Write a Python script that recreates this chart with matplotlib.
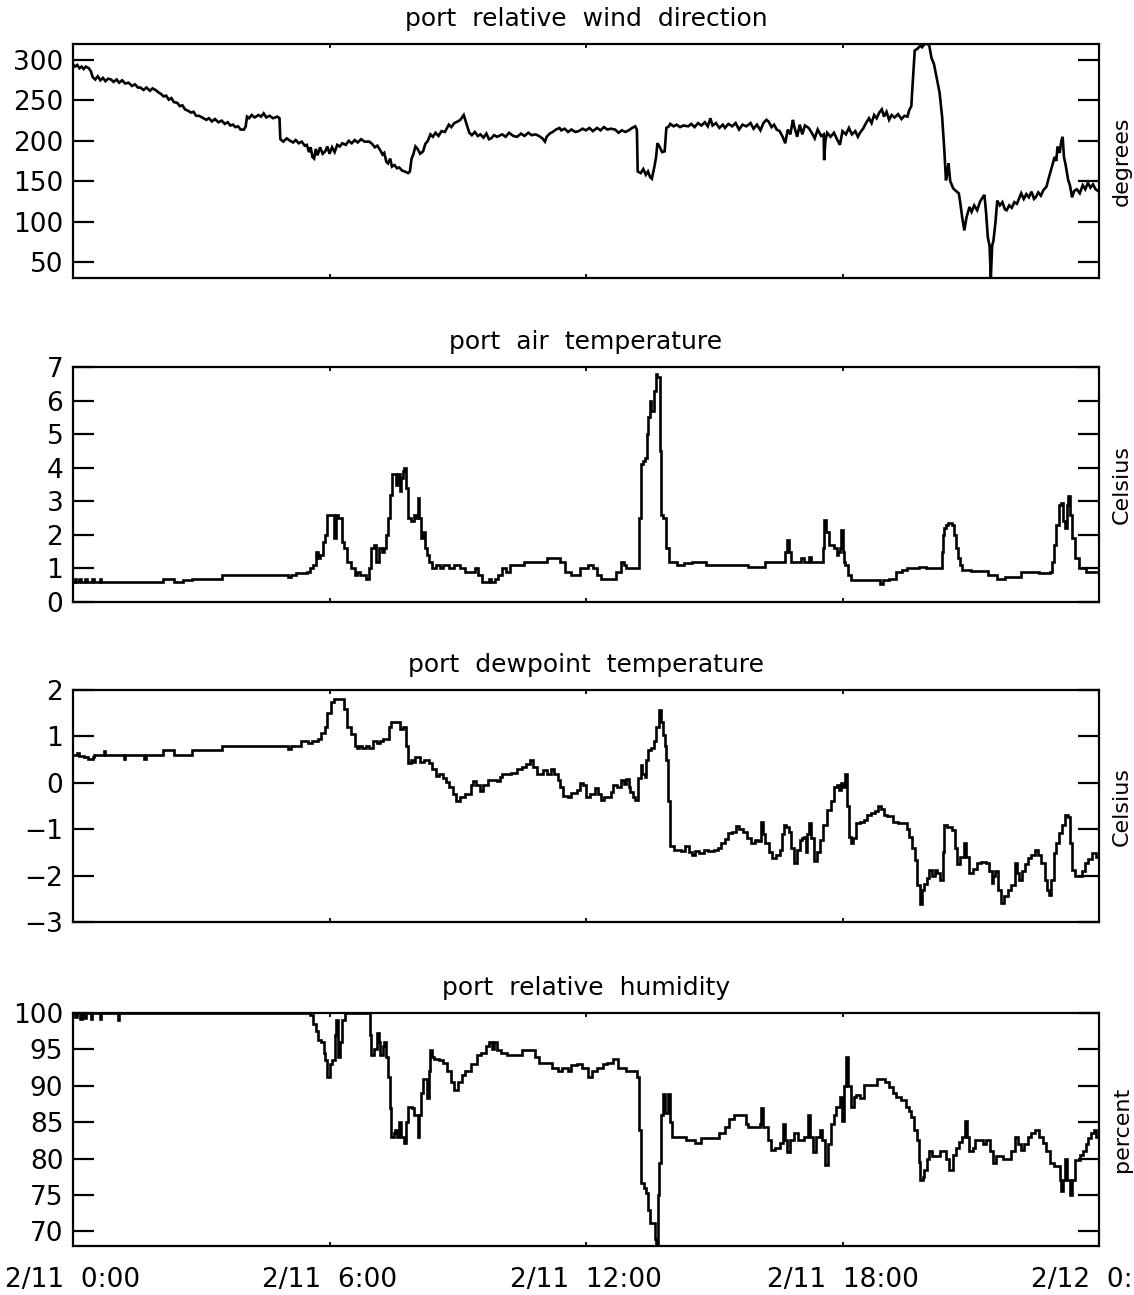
import numpy as np
import matplotlib
matplotlib.use("Agg")
import matplotlib.pyplot as plt

# ---------------- data (hours since 2/11 0:00, value) ----------------
wind_t = [0.00,0.05,0.10,0.15,0.20,0.25,0.30,0.37,0.42,0.46,0.52,0.58,0.64,0.70,0.76,0.82,0.89,0.95,1.02,1.08,
          1.15,1.22,1.30,1.38,1.45,1.52,1.58,1.65,1.72,1.80,1.86,1.93,2.00,2.06,2.12,2.18,2.24,2.30,2.36,2.44,
          2.50,2.56,2.62,2.70,2.76,2.82,2.88,2.95,3.05,3.12,3.18,3.25,3.32,3.40,3.48,3.55,3.62,3.68,3.74,3.80,
          3.86,3.92,4.00,4.04,4.07,4.12,4.18,4.25,4.34,4.40,4.46,4.52,4.60,4.68,4.78,4.83,4.85,4.92,5.00,5.08,
          5.15,5.21,5.28,5.35,5.42,5.47,5.52,5.56,5.60,5.64,5.68,5.72,5.78,5.84,5.90,5.95,6.00,6.06,6.12,6.18,
          6.24,6.30,6.38,6.45,6.52,6.59,6.66,6.74,6.82,6.93,7.00,7.06,7.12,7.19,7.24,7.28,7.33,7.37,7.42,7.46,
          7.52,7.58,7.63,7.70,7.76,7.84,7.88,7.92,7.96,8.01,8.06,8.12,8.19,8.24,8.30,8.36,8.42,8.48,8.55,8.62,
          8.70,8.79,8.85,8.92,9.00,9.06,9.14,9.20,9.27,9.33,9.40,9.47,9.53,9.60,9.67,9.73,9.78,9.85,9.92,10.04,
          10.12,10.20,10.30,10.39,10.48,10.56,10.65,10.73,10.82,10.90,10.98,11.04,11.08,11.15,11.22,11.30,11.38,11.42,11.50,11.58,
          11.66,11.75,11.83,11.92,12.00,12.08,12.16,12.26,12.34,12.42,12.50,12.58,12.68,12.76,12.84,12.92,13.00,13.08,13.15,13.19,
          13.21,13.28,13.34,13.40,13.45,13.50,13.54,13.60,13.64,13.67,13.72,13.78,13.84,13.88,13.94,13.97,14.05,14.12,14.20,14.28,
          14.39,14.46,14.54,14.62,14.70,14.78,14.85,14.91,14.96,15.04,15.12,15.20,15.25,15.33,15.42,15.50,15.58,15.66,15.75,15.85,
          15.92,16.00,16.08,16.15,16.22,16.27,16.34,16.40,16.46,16.53,16.60,16.66,16.72,16.78,16.84,16.87,16.94,17.00,17.06,17.12,
          17.21,17.28,17.35,17.42,17.50,17.56,17.57,17.60,17.64,17.72,17.80,17.88,17.94,18.00,18.08,18.15,18.22,18.30,18.36,18.41,
          18.48,18.55,18.62,18.68,18.74,18.80,18.86,18.92,18.97,19.03,19.09,19.15,19.22,19.30,19.38,19.45,19.52,19.56,19.61,19.64,
          19.69,19.75,19.82,19.86,19.92,19.99,20.03,20.08,20.14,20.21,20.27,20.33,20.38,20.42,20.45,20.48,20.52,20.59,20.65,20.72,
          20.75,20.80,20.85,20.90,20.97,21.02,21.08,21.15,21.22,21.28,21.32,21.36,21.40,21.44,21.47,21.50,21.53,21.58,21.62,21.68,
          21.74,21.80,21.84,21.90,21.96,22.02,22.08,22.14,22.18,22.24,22.30,22.36,22.42,22.48,22.52,22.58,22.64,22.70,22.77,22.83,
          22.90,22.96,23.00,23.03,23.08,23.12,23.15,23.18,23.22,23.28,23.32,23.37,23.42,23.48,23.55,23.62,23.68,23.74,23.80,23.86,
          23.92,24.00]
wind_v = [295,292,294,290,292,289,292,290,286,279,276,280,275,278,274,277,276,273,276,272,
          275,271,272,268,270,266,266,263,266,262,265,263,260,258,255,256,251,253,248,247,
          243,244,239,237,235,236,231,231,228,226,228,224,227,223,225,221,223,219,220,217,
          218,214,214,218,230,228,232,229,232,230,234,229,231,228,230,228,202,199,203,200,
          198,201,197,199,194,195,186,192,180,178,190,182,192,184,187,193,184,192,186,195,
          193,197,195,200,197,201,198,202,199,199,196,192,194,188,183,185,174,172,178,168,
          170,166,167,163,162,160,162,178,183,193,190,184,187,196,200,208,205,210,206,212,
          211,220,217,222,224,226,232,222,210,207,211,206,208,204,209,202,203,207,205,208,
          205,210,206,205,209,206,210,207,208,206,203,199,205,209,211,214,216,213,215,211,
          214,211,212,215,213,216,212,216,213,217,214,215,214,210,213,211,213,216,218,214,
          162,160,165,158,162,155,153,168,180,197,193,186,187,216,218,221,218,220,217,219,
          218,221,217,222,219,223,218,228,219,222,216,220,216,221,218,222,214,220,218,222,
          215,220,213,222,226,224,217,220,214,212,205,197,214,208,226,218,205,220,208,219,
          216,210,203,214,206,208,176,200,210,205,210,201,195,212,208,216,208,212,205,210,
          215,222,228,222,232,228,235,239,230,236,226,232,229,233,227,231,230,238,243,270,
          312,314,318,316,320,320,318,303,295,276,260,230,190,151,160,172,150,141,138,135,
          125,105,89,105,118,112,120,114,125,130,133,110,80,70,30,70,76,100,126,120,
          124,115,114,120,117,124,122,130,135,128,134,130,137,128,130,136,132,139,143,155,
          168,180,175,193,185,200,205,180,170,151,145,130,138,140,135,145,140,148,142,146,
          140,137]

air_t = [0.00,0.05,0.08,0.15,0.18,0.28,0.32,0.45,0.48,0.62,0.66,2.10,2.36,2.57,2.79,3.48,5.03,5.10,5.21,
         5.47,5.55,5.62,5.68,5.72,5.77,5.85,5.90,5.95,6.05,6.11,6.15,6.20,6.29,6.35,6.42,6.50,6.59,6.65,6.72,
         6.80,6.85,6.92,6.98,7.04,7.09,7.15,7.22,7.28,7.33,7.37,7.42,7.47,7.52,7.56,7.60,7.64,7.67,7.72,7.75,
         7.79,7.84,7.90,7.97,8.02,8.06,8.10,8.14,8.18,8.23,8.28,8.32,8.40,8.50,8.58,8.66,8.80,8.92,9.05,9.18,
         9.30,9.40,9.48,9.57,9.65,9.72,9.78,9.86,9.95,10.04,10.12,10.22,10.56,11.08,11.30,11.40,11.51,11.66,
         11.87,12.05,12.17,12.25,12.34,12.70,12.81,12.88,12.94,13.20,13.24,13.28,13.33,13.38,13.42,13.46,13.50,13.53,
         13.58,13.64,13.67,13.72,13.76,13.80,13.84,13.88,13.93,14.14,14.30,14.48,14.80,15.08,15.50,15.80,16.19,
         16.62,16.66,16.70,16.74,16.79,17.04,17.10,17.21,17.26,17.54,17.57,17.62,17.68,17.81,17.86,17.90,17.94,17.97,
         18.00,18.04,18.07,18.12,18.20,18.88,18.95,19.09,19.25,19.39,19.50,19.80,19.95,20.33,20.36,20.38,
         20.42,20.47,20.55,20.60,20.65,20.70,20.75,20.80,21.00,21.40,21.62,21.80,22.17,22.60,22.85,22.90,22.94,23.00,
         23.06,23.11,23.15,23.20,23.24,23.28,23.33,23.37,23.44,23.54,23.70,24.00]
air_v = [0.6,0.7,0.6,0.7,0.6,0.7,0.6,0.7,0.6,0.7,0.6,0.7,0.6,0.65,0.7,0.8,0.75,0.8,0.85,
         0.9,1.0,1.1,1.5,1.3,1.4,1.8,2.0,2.6,2.6,1.9,2.6,2.5,1.8,1.6,1.2,1.0,0.8,0.9,0.8,
         0.8,0.7,1.0,1.6,1.7,1.2,1.6,1.5,1.6,2.0,2.5,3.2,3.8,3.8,3.5,3.8,3.3,3.7,3.9,4.0,
         3.4,2.5,2.4,2.6,2.5,3.1,2.5,1.9,2.1,1.6,1.4,1.2,1.0,1.1,1.0,1.1,1.0,1.1,1.0,0.9,
         0.9,1.0,0.8,0.6,0.6,0.7,0.6,0.7,0.8,1.0,0.9,1.1,1.2,1.3,1.3,1.2,0.9,0.8,
         1.0,1.1,1.0,0.8,0.7,0.9,1.2,1.1,1.0,1.0,2.5,4.1,4.2,4.3,5.0,5.5,6.0,5.7,
         6.3,6.8,6.7,4.5,2.6,2.5,2.5,1.6,1.2,1.1,1.15,1.2,1.1,1.1,1.1,1.05,1.2,
         1.2,1.5,1.85,1.5,1.2,1.3,1.2,1.35,1.2,1.6,2.45,2.1,1.7,1.6,1.4,1.5,1.6,2.15,
         1.5,1.2,1.1,0.8,0.65,0.55,0.65,0.7,0.9,0.95,1.0,1.05,1.0,1.5,2.0,2.2,
         2.3,2.35,2.3,2.0,1.6,1.3,1.1,0.95,0.92,0.8,0.7,0.75,0.9,0.85,0.9,1.2,1.7,2.3,
         2.9,2.95,2.4,2.2,2.9,3.15,2.6,1.9,1.3,1.0,0.9,0.9]

dew_t = [0.00,0.10,0.15,0.25,0.35,0.46,0.50,0.70,0.72,0.75,1.17,1.19,1.22,1.65,1.67,1.70,2.10,2.36,
         2.79,3.48,5.03,5.10,5.34,5.50,5.60,5.73,5.81,5.90,5.95,6.03,6.10,6.24,6.33,
         6.42,6.50,6.59,6.65,6.70,6.76,6.85,6.93,7.02,7.10,7.19,7.25,7.40,7.45,7.64,7.71,7.78,7.84,
         7.90,7.96,8.01,8.12,8.20,8.32,8.40,8.49,8.55,8.66,8.72,8.79,8.88,8.96,9.05,9.18,9.30,9.35,
         9.42,9.53,9.60,9.70,9.80,9.91,9.98,10.04,10.15,10.25,10.39,10.50,10.60,10.69,10.75,10.85,10.91,11.00,11.08,11.17,
         11.25,11.34,11.40,11.47,11.58,11.66,11.78,11.87,11.94,12.00,12.10,12.21,12.28,12.34,12.42,12.58,12.64,12.72,12.81,
         12.88,12.94,13.00,13.03,13.10,13.15,13.22,13.28,13.32,13.37,13.41,13.45,13.52,13.58,13.64,13.71,13.75,13.79,13.84,13.88,
         13.92,13.97,14.05,14.14,14.22,14.31,14.40,14.48,14.56,14.65,14.75,14.85,14.99,15.08,15.16,15.25,15.33,15.42,15.50,15.58,
         15.68,15.76,15.85,15.95,16.02,16.09,16.14,16.19,16.28,16.36,16.45,16.53,16.58,16.63,16.68,16.74,16.80,16.87,16.94,17.00,
         17.05,17.09,17.14,17.18,17.21,17.27,17.34,17.40,17.47,17.55,17.64,17.72,17.81,17.88,17.92,17.97,18.02,18.07,18.11,18.15,
         18.20,18.24,18.32,18.40,18.50,18.58,18.67,18.75,18.84,18.90,18.97,19.05,19.18,19.30,19.50,19.56,19.62,19.69,19.75,
         19.82,19.86,19.91,19.97,20.03,20.10,20.16,20.21,20.29,20.34,20.38,20.45,20.55,20.62,20.68,20.76,20.85,20.90,20.97,21.05,
         21.15,21.25,21.36,21.42,21.49,21.53,21.57,21.63,21.70,21.78,21.87,21.95,22.04,22.08,22.13,22.20,22.28,22.34,22.42,22.51,
         22.58,22.64,22.73,22.78,22.84,22.88,22.94,23.00,23.07,23.14,23.20,23.28,23.33,23.37,23.45,23.60,23.67,23.75,23.84,
         23.92,24.00]
dew_v = [0.6,0.65,0.58,0.55,0.52,0.55,0.6,0.6,0.68,0.6,0.6,0.52,0.6,0.6,0.52,0.6,0.7,0.6,
         0.7,0.8,0.72,0.8,0.9,0.85,0.9,0.95,1.07,1.2,1.5,1.75,1.8,1.8,1.6,
         1.2,1.05,0.8,0.75,0.8,0.75,0.8,0.75,0.9,0.85,0.9,0.95,1.2,1.3,1.15,1.2,0.8,0.43,
         0.5,0.45,0.55,0.45,0.5,0.43,0.3,0.15,0.2,0.1,0.02,-0.1,-0.25,-0.4,-0.3,-0.25,-0.05,0.03,
         -0.05,-0.18,-0.05,0.07,0.05,0.03,0.12,0.18,0.2,0.22,0.3,0.35,0.4,0.5,0.35,0.2,0.18,0.28,0.2,0.3,
         0.2,0.07,-0.1,-0.29,-0.3,-0.23,-0.15,-0.01,-0.05,-0.3,-0.25,-0.12,-0.25,-0.37,-0.3,-0.2,-0.05,-0.1,0.06,
         -0.02,0.09,-0.1,-0.19,-0.3,-0.37,0.1,0.38,0.2,0.13,0.5,0.7,0.75,0.91,1.2,1.56,1.3,1.02,0.8,0.49,
         -0.4,-1.37,-1.45,-1.44,-1.48,-1.37,-1.5,-1.55,-1.48,-1.51,-1.45,-1.47,-1.44,-1.4,-1.3,-1.22,-1.09,-1.05,-0.94,-1.0,
         -1.05,-1.2,-1.3,-1.24,-1.26,-0.84,-1.1,-1.3,-1.5,-1.62,-1.55,-1.44,-1.1,-0.91,-0.95,-1.05,-1.4,-1.73,-1.45,-1.23,
         -1.2,-1.16,-1.5,-1.1,-0.87,-1.2,-1.69,-1.5,-1.23,-0.9,-0.59,-0.4,-0.09,-0.05,-0.15,-0.01,-0.1,0.2,-0.5,-1.16,
         -1.3,-1.2,-0.87,-0.85,-0.8,-0.7,-0.66,-0.6,-0.51,-0.56,-0.69,-0.72,-0.84,-0.87,-1.0,-1.16,-1.4,-1.66,-2.2,
         -2.62,-2.3,-2.19,-2.05,-1.87,-2.0,-1.87,-1.94,-2.09,-1.5,-0.91,-0.95,-1.01,-1.4,-1.76,-1.6,-1.3,-1.6,-1.94,-1.85,
         -1.73,-1.7,-1.73,-1.9,-2.16,-2.0,-1.91,-2.3,-2.59,-2.45,-2.3,-2.2,-1.73,-1.95,-2.09,-1.9,-1.75,-1.62,-1.55,-1.44,
         -1.55,-1.73,-2.09,-2.3,-2.41,-2.1,-1.51,-1.3,-1.09,-0.9,-0.69,-0.73,-1.3,-1.87,-2.01,-1.9,-1.73,-1.65,-1.51,
         -1.6,-1.62]

rh_t = [0.00,0.05,0.10,0.16,0.20,0.25,0.30,0.41,0.45,0.63,0.66,1.04,1.06,1.08,5.51,5.55,5.62,5.68,5.73,5.81,
        5.86,5.90,5.94,6.00,6.07,6.12,6.16,6.20,6.25,6.29,6.37,6.89,6.94,6.98,7.04,7.11,7.15,7.19,7.24,7.28,
        7.33,7.37,7.41,7.44,7.50,7.54,7.58,7.63,7.68,7.75,7.80,7.84,7.92,7.97,8.02,8.06,8.10,8.14,8.19,8.23,
        8.27,8.32,8.36,8.40,8.45,8.55,8.66,8.75,8.85,8.92,9.00,9.10,9.18,9.30,9.44,9.55,9.65,9.74,9.80,9.85,
        9.91,10.00,10.15,10.50,10.73,10.80,10.91,11.20,11.34,11.45,11.57,11.65,11.79,11.90,12.04,12.15,
        12.26,12.40,12.50,12.64,12.75,12.94,13.20,13.24,13.28,13.35,13.41,13.45,13.50,13.62,13.64,13.68,13.71,13.76,
        13.79,13.85,13.92,13.97,14.01,14.35,14.56,14.70,15.10,15.25,15.35,15.46,15.74,15.80,16.06,16.09,16.15,
        16.25,16.32,16.42,16.53,16.60,16.65,16.70,16.78,16.87,16.95,17.09,17.20,17.25,17.30,17.38,17.47,17.52,17.60,17.66,17.73,
        17.80,17.85,17.94,17.98,18.04,18.09,18.14,18.20,18.26,18.32,18.41,18.50,18.80,19.00,19.09,19.18,19.26,19.37,
        19.48,19.55,19.61,19.68,19.74,19.78,19.82,19.88,19.91,19.98,20.03,20.10,20.27,20.42,20.50,20.58,20.65,20.72,
        20.80,20.87,20.92,20.97,21.05,21.10,21.28,21.36,21.45,21.53,21.60,21.75,21.95,22.04,22.10,22.17,22.25,
        22.34,22.42,22.51,22.60,22.68,22.76,22.85,22.95,23.08,23.11,23.15,23.20,23.26,23.32,23.38,23.45,23.55,23.62,23.70,
        23.75,23.82,23.88,23.94,24.00]
rh_v = [100,99.5,100,99.2,100,99.3,100,99.2,100,99.2,100,100,99.0,100,100,99.7,98.5,97.5,96.3,96,
        94.5,93.5,91.2,93,93.5,97,99,94,96,99,100,100,97,94.2,95,97.2,96,94.2,95.5,96,
        94,91.2,87,83,83.5,84,83,85,83,82.1,85,87.1,87,86,86,83,86,89,91,91,
        88.3,92,94.9,94,93.7,93.5,93.1,92,90.5,89.4,90.5,91.5,92.1,93,94.2,94.5,95.5,96,95,96,
        94.9,94.5,94.2,94.9,94.9,94,93.1,92.5,92.1,92.5,92.1,92.8,93,92.5,91.2,92,
        92.4,93,93.2,93.7,92.5,92.1,91.2,84,76.6,76,75.3,73,71.2,69,68.2,75,79.4,86,
        88.9,86.2,88.9,85,83,82.5,82.1,82.8,83.5,84.4,85.5,86,84.8,84.4,84.8,86.9,84.4,
        82.5,81.2,81.5,82.1,84.8,82.5,80.9,82.5,83.5,82.5,83,86,83,80.9,83,83.9,82.5,79.1,82,84.8,
        86,87.1,88.5,85.1,90,93.9,90,87.1,88.5,88.7,88.3,90.1,91,90.5,89.8,89,88.5,88,
        87.1,86.5,85.7,84,82.6,79.5,77.1,77.5,78.4,80,81,80.3,81,80,78.4,80.5,81.5,82.3,
        83,85.1,83,81,81.5,82.6,82,82.6,81,79.4,80.3,80,81,83,82,81.2,82,
        83,83.5,83.9,83,82.1,81,79.4,79,77,75.5,77,80,77,75,77,79.8,80.5,81,82,
        82.8,83.5,83.9,83,83]

panel_titles = ["port  relative  wind  direction", "port  air  temperature",
                "port  dewpoint  temperature", "port  relative  humidity"]
panel_units = ["degrees", "Celsius", "Celsius", "percent"]
panel_ylims = [(30, 320), (0, 7), (-3, 2), (68, 100)]
panel_yticks = [[50, 100, 150, 200, 250, 300], [0, 1, 2, 3, 4, 5, 6, 7],
                [-3, -2, -1, 0, 1, 2], [70, 75, 80, 85, 90, 95, 100]]
panel_steps = [False, True, True, True]
x_ticks = [0, 6, 12, 18, 24]
x_ticklabels = ["2/11  0:00", "2/11  6:00", "2/11  12:00", "2/11  18:00", "2/12  0:00"]

series = [(wind_t, wind_v), (air_t, air_v), (dew_t, dew_v), (rh_t, rh_v)]

# ---------------- figure ----------------
W, H = 1134, 1295
fig = plt.figure(figsize=(W / 100, H / 100), dpi=100)
plt.rcParams['font.family'] = ['DejaVu Sans']

boxes = [(44, 278), (367, 602), (690, 922), (1013, 1246)]
left_px, right_px = 73, 1099

for i, ((top, bot), (t, v)) in enumerate(zip(boxes, series)):
    ax = fig.add_axes([left_px / W, 1 - bot / H, (right_px - left_px) / W, (bot - top) / H])
    ax.plot(t, v, color='black', lw=1.9, solid_joinstyle='miter',
            drawstyle='steps-post' if panel_steps[i] else 'default')
    ax.set_xlim(0, 24)
    ax.set_ylim(*panel_ylims[i])
    ax.set_yticks(panel_yticks[i])
    ax.set_xticks(x_ticks)
    if i == 3:
        ax.set_xticklabels(x_ticklabels)
    else:
        ax.set_xticklabels([])
    ax.tick_params(axis='y', direction='in', length=15, width=1.6, left=True, right=True,
                   labelsize=19, pad=7)
    ax.tick_params(axis='x', direction='in', length=3, width=1.3, top=True, bottom=True,
                   labelsize=19, pad=15)
    for s in ax.spines.values():
        s.set_linewidth(1.6)
    ax.set_title(panel_titles[i], fontsize=18, pad=13)
    ax.yaxis.set_label_position('right')
    ax.set_ylabel(panel_units[i], fontsize=16, labelpad=9, rotation=90)

fig.savefig("out.png", dpi=100, facecolor='white')
